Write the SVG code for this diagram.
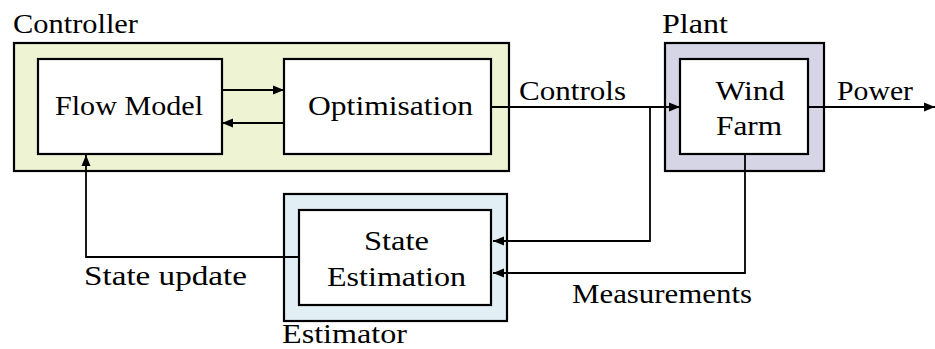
<svg xmlns="http://www.w3.org/2000/svg" width="935" height="349" viewBox="0 0 935 349" font-family="'Liberation Serif', 'DejaVu Serif', 'Noto Serif', Tinos, 'Times New Roman', Times, serif">
  <style>
    .outer { stroke: #000; stroke-width: 2.2; }
    .inner { fill: #fff; stroke: #000; stroke-width: 2.2; }
    .lbl { font-size: 28px; fill: #000; }
    .mid { text-anchor: middle; }
    .wire { fill: none; stroke: #000; stroke-width: 1.8; }
  </style>
  <defs>
    <marker id="tip" markerUnits="userSpaceOnUse" markerWidth="12" markerHeight="10" refX="11" refY="5" orient="auto">
      <path d="M0,0.5 L11,5 L0,9.5 Z" fill="#000"/>
    </marker>
  </defs>

  <rect width="935" height="349" fill="#fff"/>

  <!-- Controller group -->
  <g id="controller">
    <rect class="outer" x="14" y="43" width="495" height="128" fill="#eef3d4"/>
    <text class="lbl" x="13" y="33" textLength="125" lengthAdjust="spacingAndGlyphs">Controller</text>
  </g>
  <g id="flow-model">
    <rect class="inner" x="38" y="59" width="184" height="95"/>
    <text class="lbl mid" x="129" y="115" textLength="148" lengthAdjust="spacingAndGlyphs">Flow Model</text>
  </g>
  <g id="optimisation">
    <rect class="inner" x="284" y="59" width="207" height="95"/>
    <text class="lbl mid" x="390.5" y="115" textLength="165" lengthAdjust="spacingAndGlyphs">Optimisation</text>
  </g>

  <!-- Plant group -->
  <g id="plant">
    <rect class="outer" x="665" y="43" width="159" height="128" fill="#d5d5e5"/>
    <text class="lbl" x="662" y="33" textLength="66" lengthAdjust="spacingAndGlyphs">Plant</text>
  </g>
  <g id="wind-farm">
    <rect class="inner" x="680" y="59" width="128" height="95"/>
    <text class="lbl mid" x="750" y="100" textLength="69" lengthAdjust="spacingAndGlyphs">Wind</text>
    <text class="lbl mid" x="749" y="135" textLength="66" lengthAdjust="spacingAndGlyphs">Farm</text>
  </g>

  <!-- Estimator group -->
  <g id="estimator">
    <rect class="outer" x="284" y="194" width="223" height="127" fill="#e2f0f5"/>
    <text class="lbl" x="282" y="343" textLength="125" lengthAdjust="spacingAndGlyphs">Estimator</text>
  </g>
  <g id="state-estimation">
    <rect class="inner" x="299" y="210" width="192" height="95"/>
    <text class="lbl mid" x="396.5" y="250" textLength="65" lengthAdjust="spacingAndGlyphs">State</text>
    <text class="lbl mid" x="396.5" y="286" textLength="139" lengthAdjust="spacingAndGlyphs">Estimation</text>
  </g>

  <!-- Connectors -->
  <g id="connectors">
    <path class="wire" d="M222,90 H284" marker-end="url(#tip)"/>
    <path class="wire" d="M284,123 H222" marker-end="url(#tip)"/>
    <path class="wire" d="M491,107 H680" marker-end="url(#tip)"/>
    <path class="wire" d="M808,107 H935" marker-end="url(#tip)"/>
    <path class="wire" d="M650,107 V241 H493" marker-end="url(#tip)"/>
    <path class="wire" d="M745,154 V273 H493" marker-end="url(#tip)"/>
    <path class="wire" d="M299,257 H86 V155" marker-end="url(#tip)"/>
    <text class="lbl" x="519" y="100" textLength="107" lengthAdjust="spacingAndGlyphs">Controls</text>
    <text class="lbl" x="837" y="100" textLength="76" lengthAdjust="spacingAndGlyphs">Power</text>
    <text class="lbl" x="84" y="285" textLength="163" lengthAdjust="spacingAndGlyphs">State update</text>
    <text class="lbl" x="572" y="303" textLength="180" lengthAdjust="spacingAndGlyphs">Measurements</text>
  </g>
</svg>
